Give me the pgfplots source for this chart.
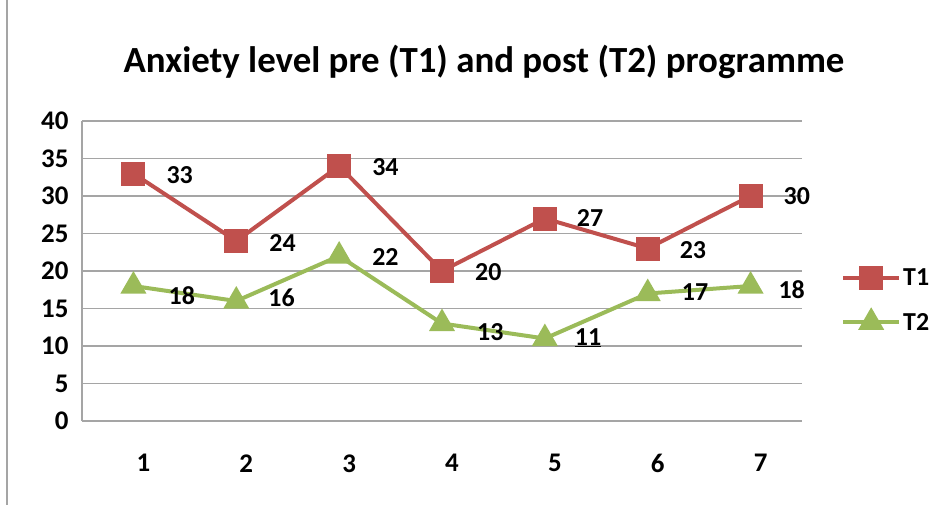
\documentclass[border=0pt]{standalone}
\usepackage{pgfplots}
\pgfplotsset{compat=1.18}
\usepackage{fontspec}
\setmainfont{Carlito}
\definecolor{tred}{RGB}{192,80,77}
\definecolor{tgreen}{RGB}{155,187,89}
\definecolor{gridg}{RGB}{165,165,165}
\tikzset{lbl/.style={font=\fontsize{26}{30}\selectfont\bfseries}}
\begin{document}
\begin{tikzpicture}
\path[use as bounding box] (0,0) rectangle (950bp,-505bp);
\draw[gridg, line width=1.5bp] (7bp,0) -- (7bp,-505bp);
\node[font=\fontsize{37}{42}\selectfont\bfseries] at (484bp,-62bp) {Anxiety level pre (T1) and post (T2) programme};
\begin{axis}[
  at={(82bp,-421bp)}, anchor=south west,
  width=720bp, height=300bp, scale only axis, clip=false,
  xmin=0.5, xmax=7.5, ymin=0, ymax=40,
  xtick={1,...,7}, ytick={0,5,...,40},
  axis x line*=bottom, axis y line*=left,
  major tick length=0pt,
  ymajorgrids,
  axis line style={gridg, line width=2bp},
  grid style={gridg, line width=1.5bp},
  ticklabel style={font=\fontsize{27}{30}\selectfont\bfseries},
  /pgf/number format/assume math mode=true,
  yticklabel style={xshift=-10bp},
  xticklabel style={yshift=-30bp, xshift=10bp},
  legend style={at={(1.05,0.403)}, anchor=west, draw=none, fill=none,
    font=\fontsize{26}{30}\selectfont\bfseries, row sep=22bp},
  legend cell align=left,
  legend image code/.code={\draw[mark repeat=2,mark phase=2] plot coordinates {(0bp,0bp)(28bp,0bp)(56bp,0bp)};},
]
\addplot[tred, line width=4bp, mark=square*, mark size=10bp, mark options={solid}]
  coordinates {(1,33)(2,24)(3,34)(4,20)(5,27)(6,23)(7,30)};
\addlegendentry{T1}
\addplot[tgreen, line width=4bp, mark=triangle*, mark size=11bp, mark options={solid}]
  coordinates {(1,18)(2,16)(3,22)(4,13)(5,11)(6,17)(7,18)};
\addlegendentry{T2}
\node[lbl] at (axis cs:1.45,32.8) {33};
\node[lbl] at (axis cs:2.45,23.7) {24};
\node[lbl] at (axis cs:3.45,33.9) {34};
\node[lbl] at (axis cs:4.45,19.9) {20};
\node[lbl] at (axis cs:5.44,27.1) {27};
\node[lbl] at (axis cs:6.44,22.8) {23};
\node[lbl] at (axis cs:7.45,30) {30};
\node[lbl] at (axis cs:1.47,16.7) {18};
\node[lbl] at (axis cs:2.44,16.4) {16};
\node[lbl] at (axis cs:3.45,21.9) {22};
\node[lbl] at (axis cs:4.47,11.9) {13};
\node[lbl] at (axis cs:5.42,11.1) {\underline{11}};
\node[lbl] at (axis cs:6.46,17.2) {17};
\node[lbl] at (axis cs:7.40,17.5) {18};
\end{axis}
\end{tikzpicture}
\end{document}
